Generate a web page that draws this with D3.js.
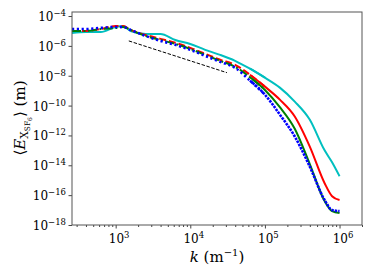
<!DOCTYPE html>
<html>
<head>
<meta charset="utf-8">
<script src="https://cdn.jsdelivr.net/npm/d3@7"></script>
<style>
  body { margin: 0; background: #fff; }
  svg text { font-family: "DejaVu Serif", "Liberation Serif", serif; fill: #000; }
</style>
</head>
<body>
<script>
// wavenumber grid (m^-1)
const kValues = [260, 398, 631, 1000, 1259, 1585, 2512, 3981, 6310, 1e4, 1.585e4, 2.512e4,
  3.981e4, 6.31e4, 1e5, 1.585e5, 2.512e5, 3.981e5, 6.31e5, 7.943e5, 1e6];

// <E> (m) for the four runs
const cyanE = [7.4e-6, 8.5e-6, 8.5e-6, 1.86e-5, 2.14e-5, 1.0e-5, 6.3e-6, 6.3e-6, 2.5e-6, 1.35e-6,
  5.4e-7, 2.5e-7, 1.0e-7, 2.95e-8, 7.4e-9, 1.6e-9, 1.86e-10, 1.17e-11, 1.0e-13, 1.6e-14, 1.86e-15];
const redE = [1.0e-5, 1.0e-5, 1.35e-5, 2.14e-5, 2.14e-5, 1.17e-5, 5.4e-6, 2.95e-6, 1.6e-6, 7.4e-7,
  2.95e-7, 1.17e-7, 5.4e-8, 1.17e-8, 1.86e-9, 2.5e-10, 1.86e-11, 1.86e-13, 6.3e-16, 8.5e-17, 4.7e-17];
const greenE = [1.0e-5, 1.0e-5, 1.35e-5, 1.6e-5, 1.86e-5, 1.17e-5, 4.7e-6, 2.5e-6, 1.35e-6, 6.3e-7,
  2.5e-7, 1.0e-7, 4.0e-8, 7.9e-9, 1.12e-9, 7.9e-11, 2.8e-12, 1.26e-14, 4.0e-17, 8.5e-18, 6.3e-18];
const blueE = [1.35e-5, 1.35e-5, 1.6e-5, 1.86e-5, 1.86e-5, 1.17e-5, 4.7e-6, 2.14e-6, 1.17e-6, 5.4e-7,
  2.14e-7, 8.5e-8, 3.4e-8, 4.7e-9, 5.4e-10, 2.5e-11, 8.5e-13, 8.5e-15, 4.7e-17, 1.0e-17, 8.5e-18];

// reference k^-5/3 slope
const refK = [1.5e3, 3.1e4];
const refE = [2.15e-6, 1.6e-8];

const xTickExp = [3, 4, 5, 6];
const yTickExp = [-18, -16, -14, -12, -10, -8, -6, -4];

const width = 374, height = 280;
const margin = {top: 12, right: 12, bottom: 55, left: 72};

const svg = d3.select("body").append("svg")
  .attr("width", width)
  .attr("height", height);

const x = d3.scaleLog()
  .domain([260, 2e6])
  .range([margin.left, width - margin.right]);

const y = d3.scaleLog()
  .domain([1e-18, 1.86e-4])
  .range([height - margin.bottom, margin.top]);

svg.append("clipPath").attr("id", "clip")
  .append("rect")
  .attr("x", margin.left).attr("y", margin.top)
  .attr("width", width - margin.left - margin.right)
  .attr("height", height - margin.top - margin.bottom);
const plot = svg.append("g").attr("clip-path", "url(#clip)");

const line = d3.line()
  .x(d => x(d.k))
  .y(d => y(d.e))
  .curve(d3.curveMonotoneX);

// dashes show on the flat part; the noisy steep tail reads as a solid line
const series = [
  {vals: cyanE, color: "#00bfbf", width: 2, dash: null, tailDash: null},
  {vals: redE, color: "#ff0000", width: 2, dash: "7,3", tailDash: null},
  {vals: greenE, color: "#008000", width: 2, dash: "9,2.5,2,2.5", tailDash: null},
  {vals: blueE, color: "#0000ff", width: 2.6, dash: "2.2,2.6", tailDash: "2.5,1"}
];

series.forEach(s => {
  const pts = kValues.map((k, i) => ({k: k, e: s.vals[i]}));
  plot.append("path")
    .datum(pts.filter(d => d.k <= 1.3e5))
    .attr("d", line)
    .attr("fill", "none")
    .attr("stroke", s.color)
    .attr("stroke-width", s.width)
    .attr("stroke-dasharray", s.dash);
  plot.append("path")
    .datum(pts.filter(d => d.k >= 6e4))
    .attr("d", line)
    .attr("fill", "none")
    .attr("stroke", s.color)
    .attr("stroke-width", s.width)
    .attr("stroke-dasharray", s.tailDash);
});

plot.append("path")
  .datum(refK.map((k, i) => ({k: k, e: refE[i]})))
  .attr("d", d3.line().x(d => x(d.k)).y(d => y(d.e)))
  .attr("fill", "none")
  .attr("stroke", "#000")
  .attr("stroke-width", 1)
  .attr("stroke-dasharray", "3.5,1.6");

// axes
const xMinor = [];
for (let p = 2; p <= 6; p++) {
  for (let m = 2; m <= 9; m++) {
    const v = m * Math.pow(10, p);
    if (v >= 260 && v <= 2e6) xMinor.push(v);
  }
}

const bottom = height - margin.bottom;

svg.append("g")
  .attr("transform", "translate(0," + bottom + ")")
  .call(d3.axisBottom(x).tickValues(xMinor).tickSize(2).tickFormat(""))
  .call(g => g.select(".domain").remove())
  .selectAll("line").attr("stroke", "#444");

const xAxis = svg.append("g")
  .attr("transform", "translate(0," + bottom + ")")
  .call(d3.axisBottom(x).tickValues(xTickExp.map(e => Math.pow(10, e))).tickSize(3.5).tickFormat(""))
  .call(g => g.select(".domain").remove());
xAxis.selectAll("line").attr("stroke", "#444");

xAxis.selectAll(".tick").each(function(d, i) {
  const t = d3.select(this).append("text")
    .attr("y", 18)
    .attr("text-anchor", "middle")
    .attr("font-size", 12)
    .attr("dx", 3);
  t.append("tspan").text("10");
  t.append("tspan").attr("dy", -5).attr("font-size", 8.5).text(xTickExp[i]);
});

const yAxis = svg.append("g")
  .attr("transform", "translate(" + margin.left + ",0)")
  .call(d3.axisLeft(y).tickValues(yTickExp.map(e => Math.pow(10, e))).tickSize(3.5).tickFormat(""))
  .call(g => g.select(".domain").remove());
yAxis.selectAll("line").attr("stroke", "#444");

yAxis.selectAll(".tick").each(function(d, i) {
  const t = d3.select(this).append("text")
    .attr("x", -6)
    .attr("y", 4.5)
    .attr("text-anchor", "end");
  t.append("tspan").attr("font-size", 12).text("10");
  t.append("tspan").attr("dy", -5).attr("font-size", 8.5).text("\u2212" + Math.abs(yTickExp[i]));
});

// frame
svg.append("rect")
  .attr("x", margin.left).attr("y", margin.top)
  .attr("width", width - margin.left - margin.right)
  .attr("height", height - margin.top - margin.bottom)
  .attr("fill", "none")
  .attr("stroke", "#555")
  .attr("stroke-width", 1);

// axis labels
const xl = svg.append("text")
  .attr("x", 217)
  .attr("y", 262)
  .attr("text-anchor", "middle")
  .attr("font-size", 15);
xl.append("tspan").attr("font-style", "italic").text("k");
xl.append("tspan").text(" (m");
xl.append("tspan").attr("dy", -6).attr("font-size", 10).text("\u22121");
xl.append("tspan").attr("dy", 6).text(")");

const yl = svg.append("text")
  .attr("transform", "translate(25,118) rotate(-90)")
  .attr("text-anchor", "middle")
  .attr("font-size", 15);
yl.append("tspan").text("\u27E8");
yl.append("tspan").attr("font-style", "italic").text("E");
yl.append("tspan").attr("dy", 3).attr("font-size", 10.5).text("X");
yl.append("tspan").attr("dy", 2).attr("font-size", 7.5).text("SF");
yl.append("tspan").attr("dy", 1.5).attr("font-size", 6).text("6");
yl.append("tspan").attr("dy", -6.5).text("\u27E9 (m)");
</script>
</body>
</html>
